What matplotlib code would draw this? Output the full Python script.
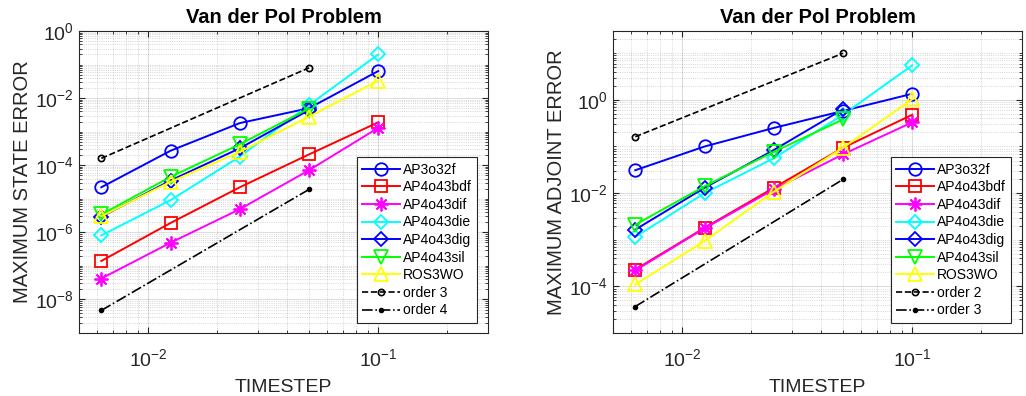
import matplotlib
matplotlib.use("Agg")
import matplotlib.pyplot as plt
from matplotlib.ticker import FixedLocator, NullFormatter, LogFormatterMathtext

plt.rcParams['font.family'] = ['Liberation Sans', 'DejaVu Sans']
plt.rcParams['mathtext.fontset'] = 'custom'
plt.rcParams['mathtext.rm'] = 'Liberation Sans'
plt.rcParams['mathtext.it'] = 'Liberation Sans'

# ---------------- data ----------------
timesteps = [0.00625, 0.0125, 0.025, 0.05, 0.1]
timesteps4 = [0.00625, 0.0125, 0.025, 0.05]
ref_x = [0.00625, 0.05]

# Left panel: maximum state error
state_AP3o32f = [2.2e-5, 2.7e-4, 1.8e-3, 5.0e-3, 6.4e-2]
state_AP4o43bdf = [1.4e-7, 1.9e-6, 2.2e-5, 2.1e-4, 1.9e-3]
state_AP4o43dif = [4.2e-8, 4.9e-7, 4.9e-6, 7.1e-5, 1.3e-3]
state_AP4o43die = [8.1e-7, 9.1e-6, 1.8e-4, 6.2e-3, 2.0e-1]
state_AP4o43dig = [2.9e-6, 3.5e-5, 3.2e-4, 4.4e-3]
state_AP4o43sil = [3.4e-6, 4.5e-5, 4.2e-4, 4.9e-3]
state_ROS3WO = [3.0e-6, 3.2e-5, 2.5e-4, 2.8e-3, 3.3e-2]
state_order3 = [1.6e-4, 8.0e-2]
state_order4 = [4.7e-9, 1.9e-5]

# Right panel: maximum adjoint error
adj_AP3o32f = [0.031, 0.10, 0.25, 0.58, 1.35]
adj_AP4o43bdf = [2.3e-4, 1.8e-3, 1.3e-2, 0.094, 0.48]
adj_AP4o43dif = [2.2e-4, 1.75e-3, 1.2e-2, 0.068, 0.33]
adj_AP4o43die = [1.15e-3, 1.0e-2, 0.056, 0.48, 5.5]
adj_AP4o43dig = [1.65e-3, 0.013, 0.084, 0.63]
adj_AP4o43sil = [2.1e-3, 0.014, 0.077, 0.38]
adj_ROS3WO = [1.1e-4, 9.4e-4, 1.07e-2, 0.094, 1.03]
adj_order2 = [0.162, 10.0]
adj_order3 = [3.7e-5, 0.0197]

method_names = ['AP3o32f', 'AP4o43bdf', 'AP4o43dif', 'AP4o43die',
                'AP4o43dig', 'AP4o43sil', 'ROS3WO']
colors = ['#0000ff', '#ff0000', '#ff00ff', '#00ffff', '#0000ff', '#00ff00', '#ffff00']
markers = ['o', 's', (8, 2, 0), 'D', 'D', 'v', '^']
msizes = [9, 8, 10, 7, 7, 10, 10]

state_yticks = [1e-8, 1e-6, 1e-4, 1e-2, 1e0]
adj_yticks = [1e-4, 1e-2, 1e0]
x_ticks = [1e-2, 1e-1]

fig = plt.figure(figsize=(10.26, 3.96), dpi=100)
ax1 = fig.add_axes([79/1026, 1-333/396, 409/1026, 302/396])
ax2 = fig.add_axes([613/1026, 1-333/396, 409/1026, 302/396])

def minor_logs(lo_exp, hi_exp, majors):
    vals = []
    for e in range(lo_exp, hi_exp + 1):
        for s in range(1, 10):
            v = s * 10.0 ** e
            if not any(abs(v - m) / m < 1e-9 for m in majors):
                vals.append(v)
    return vals

def draw(ax, series, ref1, ref2, ref_labels, ylabel, ylim, yticks):
    for name, c, m, ms, ys in zip(method_names, colors, markers, msizes, series):
        xs = timesteps if len(ys) == 5 else timesteps4
        ax.plot(xs, ys, color=c, marker=m, ms=ms, mfc='none', mec=c,
                mew=1.3, lw=1.4, label=name)
    ax.plot(ref_x, ref1, 'k--', marker='o', ms=4.5, mfc='none', mew=1.2, lw=1.2,
            label=ref_labels[0])
    ax.plot(ref_x, ref2, 'k-.', marker='.', ms=6, lw=1.2, label=ref_labels[1])
    ax.set_xscale('log')
    ax.set_yscale('log')
    ax.set_xlim(0.005, 0.3)
    ax.set_ylim(*ylim)
    ax.yaxis.set_major_locator(FixedLocator(yticks))
    ax.yaxis.set_major_formatter(LogFormatterMathtext())
    ax.yaxis.set_minor_locator(FixedLocator(minor_logs(-10, 2, yticks)))
    ax.yaxis.set_minor_formatter(NullFormatter())
    ax.xaxis.set_major_locator(FixedLocator(x_ticks))
    ax.xaxis.set_major_formatter(LogFormatterMathtext())
    ax.xaxis.set_minor_locator(FixedLocator(minor_logs(-3, 0, x_ticks)))
    ax.xaxis.set_minor_formatter(NullFormatter())
    ax.grid(True, which='major', color='#262626', alpha=0.15, lw=0.8)
    ax.grid(True, which='minor', color='#262626', alpha=0.25, lw=0.6, ls=':')
    ax.tick_params(which='both', direction='in', top=True, right=True,
                   colors='#262626', labelsize=14)
    ax.tick_params(axis='x', which='major', pad=11)
    ax.tick_params(which='major', length=4)
    ax.tick_params(which='minor', length=2)
    for s in ax.spines.values():
        s.set_color('#262626')
        s.set_linewidth(0.8)
    ax.set_title('Van der Pol Problem', fontsize=14.5, fontweight='bold', pad=6)
    ax.set_xlabel('TIMESTEP', fontsize=14, color='#262626', labelpad=6)
    ax.set_ylabel(ylabel, fontsize=14.5, color='#262626', labelpad=2)
    leg = ax.legend(loc='lower right', bbox_to_anchor=(0.973, 0.033),
                    borderaxespad=0, fontsize=10, handlelength=2.7,
                    handletextpad=0.2, labelspacing=0.26, borderpad=0.4,
                    fancybox=False, framealpha=1, edgecolor='#262626')
    leg.get_frame().set_linewidth(0.8)

draw(ax1, [state_AP3o32f, state_AP4o43bdf, state_AP4o43dif, state_AP4o43die,
           state_AP4o43dig, state_AP4o43sil, state_ROS3WO],
     state_order3, state_order4, ['order 3', 'order 4'],
     'MAXIMUM STATE ERROR', (1e-9, 1e0), state_yticks)
draw(ax2, [adj_AP3o32f, adj_AP4o43bdf, adj_AP4o43dif, adj_AP4o43die,
           adj_AP4o43dig, adj_AP4o43sil, adj_ROS3WO],
     adj_order2, adj_order3, ['order 2', 'order 3'],
     'MAXIMUM ADJOINT ERROR', (1e-5, 30), adj_yticks)

fig.savefig('out.png', dpi=100)
